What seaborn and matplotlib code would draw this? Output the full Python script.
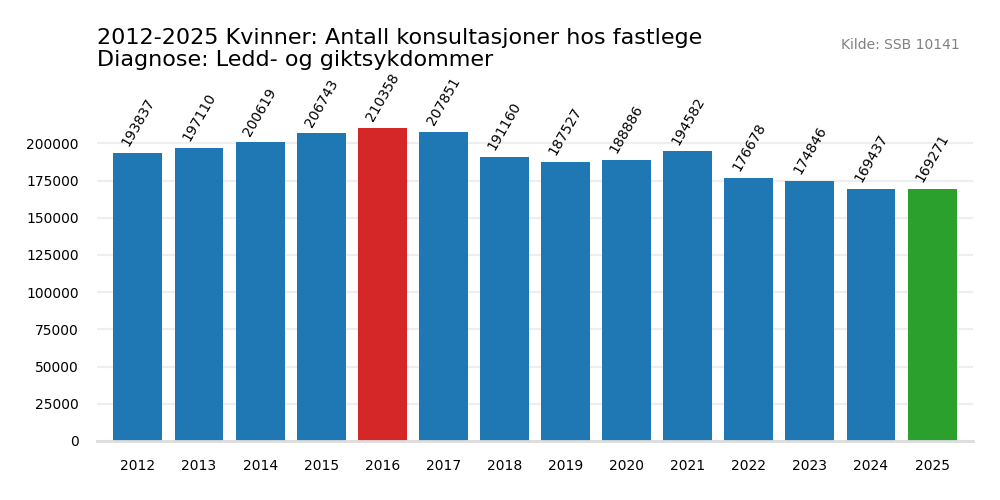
import pandas as pd
import seaborn as sns
import matplotlib.pyplot as plt

years = ["2012", "2013", "2014", "2015", "2016", "2017", "2018",
         "2019", "2020", "2021", "2022", "2023", "2024", "2025"]
consultations = [193837, 197110, 200619, 206743, 210358, 207851, 191160,
                 187527, 188886, 194582, 176678, 174846, 169437, 169271]

title = "2012-2025 Kvinner: Antall konsultasjoner hos fastlege\nDiagnose: Ledd- og giktsykdommer"
source = "Kilde: SSB 10141"


def bar_colors(values):
    colors = []
    top = max(values)
    for i, v in enumerate(values):
        if v == top:
            colors.append("#d62728")
        elif i == len(values) - 1:
            colors.append("#2ca02c")
        else:
            colors.append("#1f77b4")
    return colors


def main():
    data = pd.DataFrame({"year": years, "count": consultations})

    sns.set_style("white")
    plt.rcParams["font.family"] = ["DejaVu Sans"]
    plt.rcParams["text.color"] = "black"
    plt.rcParams["xtick.color"] = "black"
    plt.rcParams["ytick.color"] = "black"

    fig = plt.figure(figsize=(10, 5), dpi=100)
    ax = fig.add_axes([0.097, 0.118, 0.876, 0.72])

    sns.barplot(data=data, x="year", y="count", hue="year",
                palette=bar_colors(consultations), legend=False,
                width=0.8, saturation=1, linewidth=0, ax=ax)

    for patch, value in zip(ax.patches, consultations):
        ax.annotate(str(value), (patch.get_x() + patch.get_width() / 2, value),
                    xytext=(0, 3), textcoords="offset points",
                    ha="center", va="bottom", rotation=60, fontsize=10)

    ax.set_xlim(-0.67, len(years) - 0.33)
    ax.set_ylim(0, max(consultations) * 1.15)
    ax.set_yticks(range(0, 200001, 25000))
    ax.set(xlabel="", ylabel="")
    ax.yaxis.grid(True, color="#eeeeee", linewidth=1.6)
    ax.set_axisbelow(True)
    ax.tick_params(axis="both", length=0, labelsize=10)
    ax.tick_params(axis="x", pad=13)
    ax.tick_params(axis="y", pad=13)

    for side in ["left", "right", "top"]:
        ax.spines[side].set_visible(False)
    ax.spines["bottom"].set_color("#dddddd")
    ax.spines["bottom"].set_linewidth(2)

    fig.text(0.097, 0.86, title, fontsize=16, ha="left", va="bottom", linespacing=1.1)
    fig.text(0.96, 0.91, source, fontsize=10, color="gray", ha="right", va="center")

    plt.savefig("out.png", dpi=100)


if __name__ == '__main__':
    main()
